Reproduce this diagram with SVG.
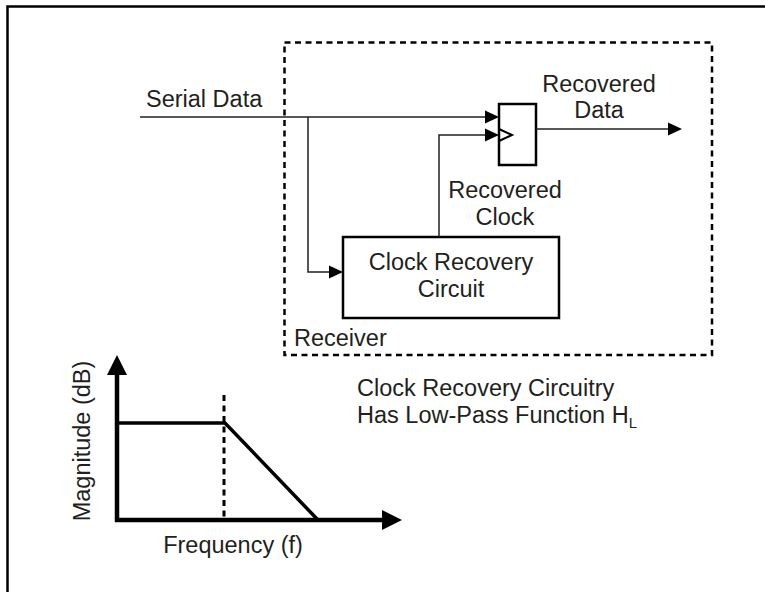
<svg xmlns="http://www.w3.org/2000/svg" width="765" height="592" viewBox="0 0 765 592">
<style>
text{font-family:"Liberation Sans",Arial,sans-serif;font-size:23.5px;fill:#231f20}
.ln{stroke:#231f20;stroke-width:1.5;fill:none}
.box{stroke:#000;stroke-width:2.5;fill:#fff}
.ah{fill:#000}
</style>
<rect width="765" height="592" fill="#fff"/>
<path d="M7.5,592 V6.5 H766" fill="none" stroke="#000" stroke-width="2.5"/>
<g id="receiver">
<rect x="284.5" y="42.5" width="427.5" height="312.5" fill="none" stroke="#000" stroke-width="2.5" stroke-dasharray="6,4.5"/>
<text x="294" y="346">Receiver</text>
</g>
<g id="flipflop">
<rect class="box" x="499" y="104" width="37" height="61"/>
<polyline points="499,129 512,135 499,141" fill="none" stroke="#000" stroke-width="2"/>
</g>
<g id="cdr">
<rect class="box" x="343" y="237" width="216" height="81"/>
<text x="451" y="270" text-anchor="middle">Clock Recovery</text>
<text x="451" y="297" text-anchor="middle">Circuit</text>
</g>
<g id="labels">
<text x="146" y="107">Serial Data</text>
<text x="599" y="92" text-anchor="middle">Recovered</text>
<text x="599" y="118" text-anchor="middle">Data</text>
<text x="505" y="198" text-anchor="middle">Recovered</text>
<text x="505" y="225" text-anchor="middle">Clock</text>
<text x="357" y="396">Clock Recovery Circuitry</text>
<text x="357" y="423">Has Low-Pass Function H<tspan font-size="15" dy="5">L</tspan></text>
</g>
<g id="connectors">
<path class="ln" d="M140,117 H486"/>
<polygon class="ah" points="499,117 485,110.5 485,123.5"/>
<path class="ln" d="M439,237 V135 H486"/>
<polygon class="ah" points="499,135 485,128.5 485,141.5"/>
<path class="ln" d="M536,129 H669"/>
<polygon class="ah" points="682,129 668,122.5 668,135.5"/>
<path class="ln" d="M308,117 V272 H331"/>
<polygon class="ah" points="343,272 329,265.5 329,278.5"/>
</g>
<g id="graph">
<path d="M117,522 V372" stroke="#000" stroke-width="4.5" fill="none"/>
<polygon class="ah" points="117,355 107,375 127,375"/>
<path d="M115,520 H384" stroke="#000" stroke-width="4.5" fill="none"/>
<polygon class="ah" points="402,520 382,510 382,530"/>
<path d="M117,423 H225 L318,520" stroke="#000" stroke-width="3.5" fill="none"/>
<path d="M224,395 V520" stroke="#000" stroke-width="3" stroke-dasharray="6,4.5" fill="none"/>
<text x="233" y="553" text-anchor="middle">Frequency (f)</text>
<text transform="translate(90,441) rotate(-90)" text-anchor="middle">Magnitude (dB)</text>
</g>
</svg>
